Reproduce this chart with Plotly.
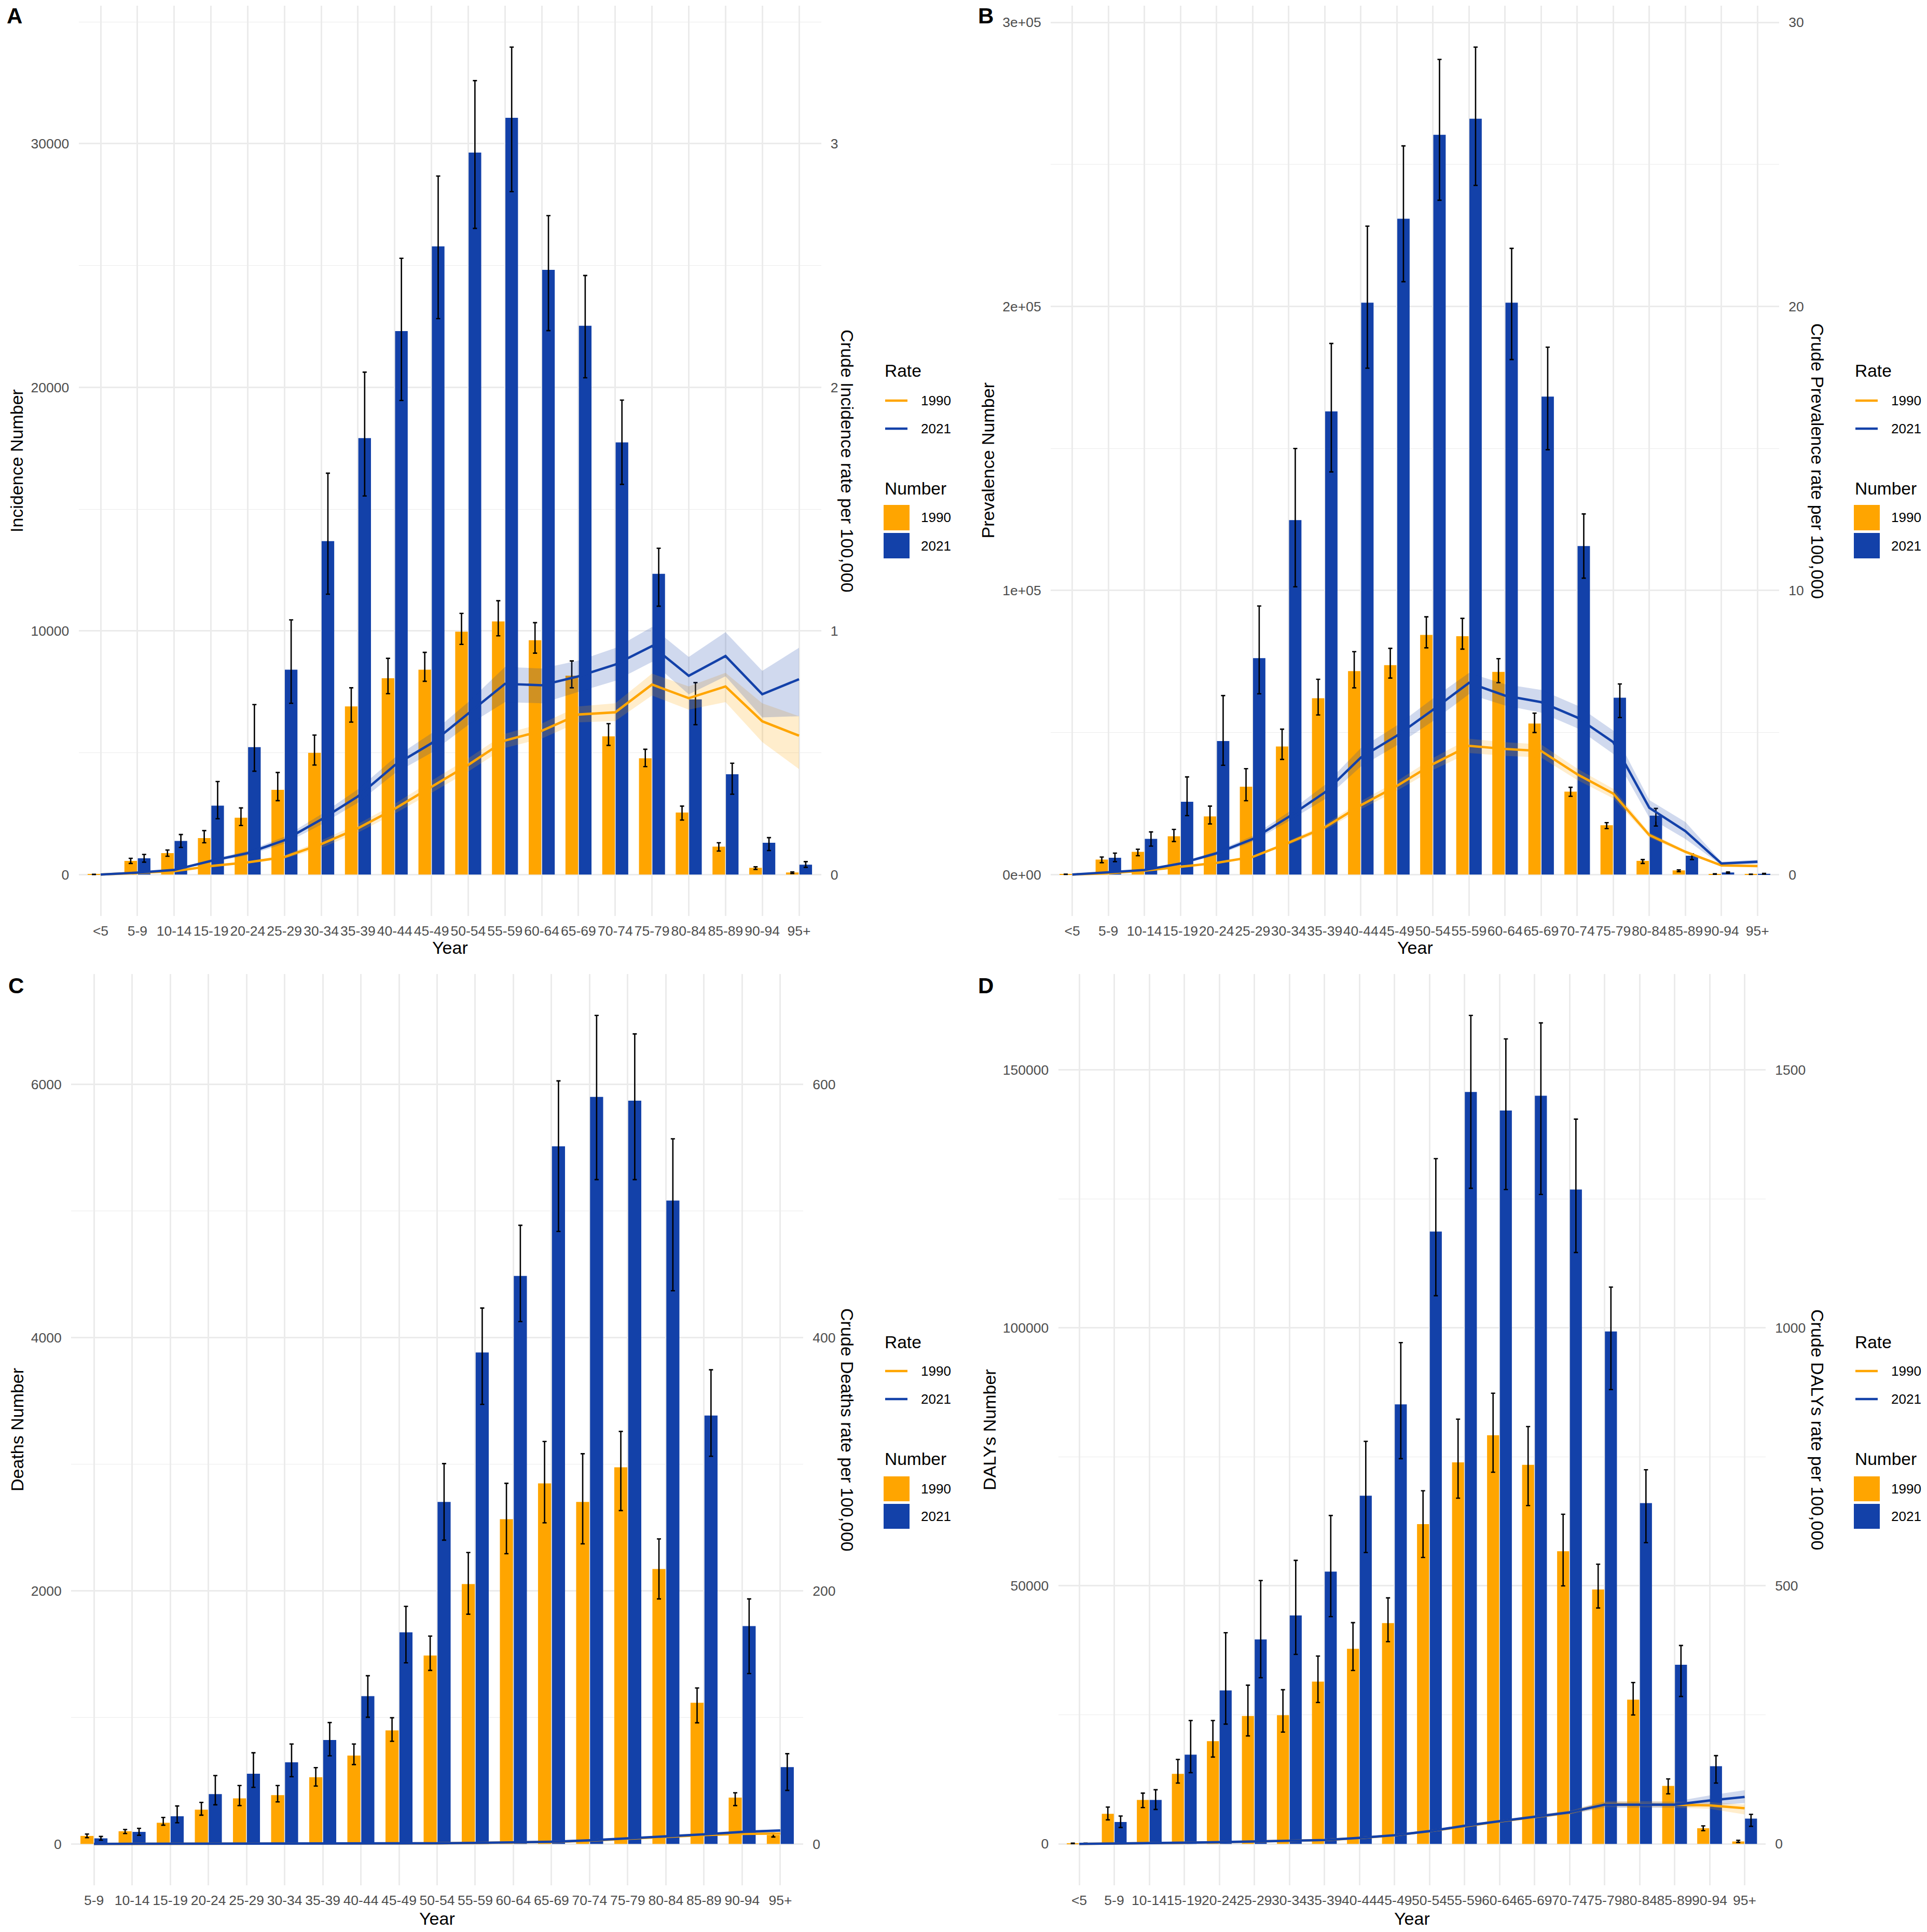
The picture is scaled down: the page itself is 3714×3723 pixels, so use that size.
import plotly.graph_objects as go

# ---------------- data ----------------
ages_abd = ["<5", "5-9", "10-14", "15-19", "20-24", "25-29", "30-34", "35-39", "40-44", "45-49",
            "50-54", "55-59", "60-64", "65-69", "70-74", "75-79", "80-84", "85-89", "90-94", "95+"]
ages_c = ["5-9", "10-14", "15-19", "20-24", "25-29", "30-34", "35-39", "40-44", "45-49",
          "50-54", "55-59", "60-64", "65-69", "70-74", "75-79", "80-84", "85-89", "90-94", "95+"]

# Panel A: Incidence
inc_num_1990 = [8, 562, 880, 1495, 2333, 3478, 4995, 6904, 8059, 8409, 9968, 10392, 9618, 8165, 5673, 4772, 2545, 1145, 276, 85]
inc_num_1990_lo = [4, 456, 753, 1304, 2015, 3033, 4496, 6257, 7423, 7932, 9449, 9799, 9088, 7667, 5302, 4433, 2237, 965, 212, 42]
inc_num_1990_hi = [12, 668, 1007, 1803, 2736, 4189, 5726, 7667, 8876, 9120, 10721, 11241, 10339, 8770, 6193, 5143, 2810, 1304, 318, 106]
inc_num_2021 = [10, 668, 1379, 2831, 5228, 8409, 13689, 17918, 22311, 25787, 29639, 31066, 24820, 22525, 17738, 12344, 7190, 4115, 1304, 403]
inc_num_2021_lo = [5, 509, 1113, 2291, 4242, 7031, 11508, 15541, 19459, 22820, 26525, 28033, 22328, 20393, 16016, 11016, 6151, 3298, 986, 297]
inc_num_2021_hi = [15, 827, 1644, 3818, 6978, 10456, 16475, 20623, 25295, 28672, 32590, 33967, 27049, 24590, 19475, 13393, 7879, 4571, 1516, 530]
inc_rate_1990 = [0.0, 0.006, 0.014, 0.035, 0.05, 0.072, 0.125, 0.19, 0.27, 0.36, 0.45, 0.55, 0.59, 0.657, 0.666, 0.78, 0.724, 0.772, 0.629, 0.57]
inc_rate_1990_lo = [0.0, 0.005, 0.012, 0.031, 0.045, 0.065, 0.11, 0.172, 0.25, 0.335, 0.423, 0.52, 0.558, 0.625, 0.63, 0.735, 0.677, 0.708, 0.544, 0.433]
inc_rate_1990_hi = [0.0, 0.007, 0.016, 0.039, 0.055, 0.079, 0.14, 0.208, 0.29, 0.385, 0.477, 0.578, 0.62, 0.69, 0.703, 0.825, 0.772, 0.828, 0.703, 0.65]
inc_rate_2021 = [0.0, 0.008, 0.019, 0.056, 0.088, 0.141, 0.226, 0.321, 0.449, 0.539, 0.661, 0.783, 0.777, 0.814, 0.862, 0.938, 0.816, 0.897, 0.74, 0.802]
inc_rate_2021_lo = [0.0, 0.007, 0.016, 0.05, 0.079, 0.127, 0.205, 0.295, 0.415, 0.5, 0.614, 0.708, 0.703, 0.75, 0.795, 0.873, 0.74, 0.814, 0.645, 0.65]
inc_rate_2021_hi = [0.0, 0.009, 0.022, 0.062, 0.097, 0.155, 0.247, 0.35, 0.48, 0.58, 0.708, 0.852, 0.846, 0.878, 0.93, 1.016, 0.893, 0.995, 0.836, 0.931]

# Panel B: Prevalence
prev_num_1990 = [100, 5273, 8000, 13455, 20455, 30909, 45091, 62091, 71636, 73727, 84364, 83909, 71364, 53182, 29182, 17364, 4818, 1455, 182, 91]
prev_num_1990_lo = [50, 4182, 6636, 11636, 17818, 26000, 40545, 56182, 65727, 69182, 79818, 79364, 67545, 50000, 27545, 16182, 3909, 1000, 100, 50]
prev_num_1990_hi = [150, 6182, 8909, 15909, 24091, 37273, 51182, 68727, 78455, 79636, 90727, 90182, 76000, 56818, 30727, 18273, 5273, 1636, 260, 130]
prev_num_2021 = [150, 5909, 12545, 25636, 47000, 76182, 124783, 163043, 201304, 230870, 260435, 266087, 201304, 168261, 115652, 62273, 20727, 6636, 727, 273]
prev_num_2021_lo = [80, 4545, 10000, 20727, 38455, 63636, 101304, 141739, 178261, 208696, 237391, 242609, 181304, 149565, 104348, 55273, 17091, 5273, 455, 150]
prev_num_2021_hi = [220, 7545, 15000, 34364, 63000, 94545, 150000, 186957, 228261, 256522, 286957, 291304, 220435, 185652, 126957, 67091, 23273, 7273, 909, 400]
prev_rate_1990 = [0.0, 0.045, 0.14, 0.27, 0.41, 0.62, 1.12, 1.66, 2.44, 3.12, 3.89, 4.53, 4.42, 4.35, 3.53, 2.85, 1.39, 0.8, 0.32, 0.30]
prev_rate_1990_lo = [0.0, 0.04, 0.13, 0.25, 0.38, 0.58, 1.05, 1.56, 2.3, 2.95, 3.68, 4.28, 4.18, 4.12, 3.33, 2.68, 1.3, 0.74, 0.29, 0.27]
prev_rate_1990_hi = [0.0, 0.05, 0.15, 0.29, 0.44, 0.66, 1.19, 1.76, 2.58, 3.29, 4.1, 4.78, 4.66, 4.58, 3.73, 3.02, 1.48, 0.86, 0.35, 0.33]
prev_rate_2021 = [0.0, 0.07, 0.16, 0.39, 0.75, 1.25, 2.03, 2.89, 4.12, 4.89, 5.8, 6.75, 6.3, 6.07, 5.53, 4.66, 2.35, 1.53, 0.39, 0.45]
prev_rate_2021_lo = [0.0, 0.06, 0.14, 0.35, 0.68, 1.15, 1.88, 2.65, 3.8, 4.55, 5.4, 6.35, 5.95, 5.7, 5.15, 4.25, 2.0, 1.25, 0.33, 0.38]
prev_rate_2021_hi = [0.0, 0.08, 0.18, 0.43, 0.82, 1.36, 2.2, 3.15, 4.45, 5.25, 6.2, 7.1, 6.7, 6.5, 5.95, 5.07, 2.62, 1.85, 0.45, 0.52]

# Panel C: Deaths
death_num_1990 = [63, 100, 167, 271, 360, 385, 527, 698, 897, 1488, 2053, 2566, 2849, 2702, 2976, 2172, 1115, 366, 70]
death_num_1990_lo = [49, 82, 148, 227, 303, 332, 457, 627, 811, 1371, 1815, 2293, 2537, 2371, 2634, 1936, 957, 303, 55]
death_num_1990_hi = [78, 114, 209, 328, 461, 461, 603, 789, 997, 1642, 2302, 2849, 3180, 3083, 3259, 2410, 1232, 404, 85]
death_num_2021 = [44, 95, 218, 394, 555, 645, 821, 1168, 1672, 2702, 3883, 4488, 5512, 5902, 5873, 5083, 3385, 1721, 607]
death_num_2021_lo = [30, 68, 167, 309, 447, 531, 696, 1001, 1431, 2400, 3473, 4127, 4839, 5249, 5249, 4371, 3063, 1346, 423]
death_num_2021_hi = [59, 123, 300, 540, 720, 789, 959, 1329, 1877, 3005, 4234, 4888, 6029, 6546, 6400, 5571, 3746, 1936, 713]
death_rate_1990 = [0.02, 0.03, 0.04, 0.06, 0.08, 0.1, 0.13, 0.18, 0.27, 0.45, 0.75, 1.05, 1.6, 2.6, 4.2, 5.5, 7.0, 7.9, 8.2]
death_rate_1990_lo = [0.018, 0.027, 0.036, 0.054, 0.072, 0.09, 0.117, 0.162, 0.243, 0.41, 0.69, 0.96, 1.47, 2.4, 3.9, 5.1, 6.4, 7.2, 7.3]
death_rate_1990_hi = [0.022, 0.033, 0.044, 0.066, 0.088, 0.11, 0.143, 0.198, 0.297, 0.49, 0.81, 1.14, 1.73, 2.8, 4.5, 5.9, 7.6, 8.6, 9.1]
death_rate_2021 = [0.02, 0.03, 0.05, 0.07, 0.09, 0.12, 0.15, 0.2, 0.3, 0.5, 0.8, 1.1, 1.7, 2.8, 4.4, 5.7, 7.6, 9.5, 10.6]
death_rate_2021_lo = [0.018, 0.027, 0.045, 0.063, 0.081, 0.108, 0.135, 0.18, 0.27, 0.46, 0.74, 1.0, 1.56, 2.58, 4.05, 5.25, 7.0, 8.7, 9.6]
death_rate_2021_hi = [0.022, 0.033, 0.055, 0.077, 0.099, 0.132, 0.165, 0.22, 0.33, 0.54, 0.86, 1.2, 1.84, 3.02, 4.75, 6.15, 8.2, 10.3, 11.6]

# Panel D: DALYs
daly_num_1990 = [100, 5825, 8528, 13560, 19898, 24790, 24930, 31454, 37791, 42777, 61962, 73923, 79187, 73445, 56699, 49301, 27959, 11230, 3029, 466]
daly_num_1990_lo = [50, 4660, 7037, 11790, 16822, 20923, 21668, 27400, 33598, 39189, 55502, 66986, 72010, 65550, 50000, 45713, 24977, 9692, 2563, 280]
daly_num_1990_hi = [150, 7130, 9832, 16356, 23905, 30755, 29870, 36393, 42870, 47670, 68421, 82297, 87321, 80861, 63876, 54194, 31268, 12582, 3495, 699]
daly_num_2021 = [100, 4240, 8528, 17288, 29730, 39608, 44268, 52749, 67464, 85167, 118660, 145694, 142105, 144976, 126794, 99282, 66029, 34716, 15051, 4893]
daly_num_2021_lo = [50, 3169, 6664, 13793, 23206, 32200, 36719, 44035, 56459, 74641, 106220, 127033, 126794, 125837, 114593, 88038, 58373, 28565, 11790, 3402]
daly_num_2021_hi = [150, 5405, 10485, 23905, 40913, 51025, 54939, 63636, 78000, 97129, 132775, 160526, 155981, 159091, 140431, 107895, 72488, 38444, 17102, 5732]
daly_rate_1990 = [0.0, 0.5, 1.3, 2.2, 3.2, 4.6, 6.0, 7.4, 11.4, 16.5, 24.5, 34.5, 43.5, 52.0, 60.5, 77.0, 77.0, 76.0, 74.6, 69.0]
daly_rate_1990_lo = [0.0, 0.4, 1.1, 1.9, 2.8, 4.1, 5.4, 6.7, 10.4, 15.2, 22.8, 32.3, 41.0, 49.0, 57.0, 71.0, 71.0, 70.0, 68.0, 57.0]
daly_rate_1990_hi = [0.0, 0.6, 1.5, 2.5, 3.6, 5.1, 6.6, 8.1, 12.4, 17.8, 26.2, 36.7, 46.0, 55.0, 64.0, 83.0, 83.0, 82.0, 81.0, 76.0]
daly_rate_2021 = [0.0, 0.5, 1.4, 2.3, 3.3, 4.7, 6.1, 7.5, 11.6, 16.8, 24.7, 35.0, 44.0, 52.7, 61.0, 76.0, 76.0, 76.0, 84.0, 91.0]
daly_rate_2021_lo = [0.0, 0.4, 1.2, 2.0, 2.9, 4.2, 5.5, 6.8, 10.6, 15.5, 23.0, 32.8, 41.5, 49.8, 57.5, 70.0, 70.0, 70.0, 74.0, 79.0]
daly_rate_2021_hi = [0.0, 0.6, 1.6, 2.6, 3.7, 5.2, 6.7, 8.2, 12.6, 18.1, 26.4, 37.2, 46.5, 55.6, 64.5, 82.0, 82.0, 82.0, 94.0, 104.0]

# tick labels
inc_ticks = [0, 10000, 20000, 30000]
inc_ticktext = ["0", "10000", "20000", "30000"]
inc_rate_ticks = [0, 1, 2, 3]
prev_ticks = [0, 100000, 200000, 300000]
prev_ticktext = ["0e+00", "1e+05", "2e+05", "3e+05"]
prev_rate_ticks = [0, 10, 20, 30]
death_ticks = [0, 2000, 4000, 6000]
death_ticktext = ["0", "2000", "4000", "6000"]
death_rate_ticks = [0, 200, 400, 600]
daly_ticks = [0, 50000, 100000, 150000]
daly_ticktext = ["0", "50000", "100000", "150000"]
daly_rate_ticks = [0, 500, 1000, 1500]
years = ["1990", "2021"]

# ---------------- style / layout constants ----------------
W, H = 3714, 3723
ORANGE = "#FFA500"
BLUE = "#1341A9"
FILLS = {"1990": "rgba(255,165,0,0.2)", "2021": "rgba(19,65,169,0.2)"}
COLORS = {"1990": ORANGE, "2021": BLUE}
GRID = "#EBEBEB"
TICKC = "#4D4D4D"
FONT = "Liberation Sans, Arial, sans-serif"
TICKSIZE = 26.5
TITLESIZE = 34

panels = [
    dict(tag="A", ages=ages_abd,
         num={"1990": (inc_num_1990, inc_num_1990_lo, inc_num_1990_hi), "2021": (inc_num_2021, inc_num_2021_lo, inc_num_2021_hi)},
         rate={"1990": (inc_rate_1990, inc_rate_1990_lo, inc_rate_1990_hi), "2021": (inc_rate_2021, inc_rate_2021_lo, inc_rate_2021_hi)},
         px=(151.5, 1582.5), py=(11, 1765), yr=(-1698, 35665), factor=1e4,
         yt=inc_ticks, ytt=inc_ticktext, step=10000, y2t=inc_rate_ticks,
         ltitle="Incidence Number", rtitle="Crude Incidence rate per 100,000",
         lt_x=32, rt_x=1633, tag_xy=(27.5, 30.5), leg_x=1703, row=0, year_y=1826),
    dict(tag="B", ages=ages_abd,
         num={"1990": (prev_num_1990, prev_num_1990_lo, prev_num_1990_hi), "2021": (prev_num_2021, prev_num_2021_lo, prev_num_2021_hi)},
         rate={"1990": (prev_rate_1990, prev_rate_1990_lo, prev_rate_1990_hi), "2021": (prev_rate_2021, prev_rate_2021_lo, prev_rate_2021_hi)},
         px=(2025, 3429), py=(11, 1765), yr=(-14565, 305869), factor=1e4,
         yt=prev_ticks, ytt=prev_ticktext, step=100000, y2t=prev_rate_ticks,
         ltitle="Prevalence Number", rtitle="Crude Prevalence rate per 100,000",
         lt_x=1903.5, rt_x=3503, tag_xy=(1900, 30.5), leg_x=3573, row=0, year_y=1826),
    dict(tag="C", ages=ages_c,
         num={"1990": (death_num_1990, death_num_1990_lo, death_num_1990_hi), "2021": (death_num_2021, death_num_2021_lo, death_num_2021_hi)},
         rate={"1990": (death_rate_1990, death_rate_1990_lo, death_rate_1990_hi), "2021": (death_rate_2021, death_rate_2021_lo, death_rate_2021_hi)},
         px=(137, 1548), py=(1877, 3633), yr=(-327, 6873), factor=10,
         yt=death_ticks, ytt=death_ticktext, step=2000, y2t=death_rate_ticks,
         ltitle="Deaths Number", rtitle="Crude Deaths rate per 100,000",
         lt_x=33, rt_x=1633, tag_xy=(30.5, 1899.5), leg_x=1703, row=1, year_y=3697),
    dict(tag="D", ages=ages_abd,
         num={"1990": (daly_num_1990, daly_num_1990_lo, daly_num_1990_hi), "2021": (daly_num_2021, daly_num_2021_lo, daly_num_2021_hi)},
         rate={"1990": (daly_rate_1990, daly_rate_1990_lo, daly_rate_1990_hi), "2021": (daly_rate_2021, daly_rate_2021_lo, daly_rate_2021_hi)},
         px=(2039.5, 3403), py=(1877, 3633), yr=(-8026, 168552), factor=100,
         yt=daly_ticks, ytt=daly_ticktext, step=50000, y2t=daly_rate_ticks,
         ltitle="DALYs Number", rtitle="Crude DALYs rate per 100,000",
         lt_x=1907, rt_x=3503, tag_xy=(1900, 1899.5), leg_x=3573, row=1, year_y=3697),
]

legend_rows = [
    dict(rate_y=715, line_y=(772, 826), num_y=941, sq=((973, 1022), (1027, 1076))),
    dict(rate_y=2586, line_y=(2642, 2696), num_y=2811, sq=((2845, 2893), (2898, 2946))),
]


def fx(p):
    return p / W


def fy(p):
    return 1 - p / H


fig = go.Figure()
layout = dict(
    width=W, height=H, margin=dict(l=0, r=0, t=0, b=0),
    paper_bgcolor="white", plot_bgcolor="white",
    barmode="group", bargap=0.27, bargroupgap=0.06,
    showlegend=False, font=dict(family=FONT, color="black"),
)
annotations = []
shapes = []

for i, p in enumerate(panels, start=1):
    xa = "x" if i == 1 else f"x{i}"
    ya1 = f"y{2 * i - 1}" if i > 1 else "y"
    ya2 = f"y{2 * i}"
    ages = p["ages"]
    n = len(ages)

    # bars with error bars
    for yr_ in years:
        v, lo, hi = p["num"][yr_]
        fig.add_trace(go.Bar(
            x=ages, y=v, xaxis=xa, yaxis=ya1, name=yr_,
            marker=dict(color=COLORS[yr_], line=dict(width=0)),
            error_y=dict(type="data", symmetric=False,
                         array=[h - a for h, a in zip(hi, v)],
                         arrayminus=[a - l for a, l in zip(v, lo)],
                         color="black", thickness=2.6, width=4),
        ))
    # ribbons
    for yr_ in years:
        r, lo, hi = p["rate"][yr_]
        fig.add_trace(go.Scatter(x=ages, y=lo, xaxis=xa, yaxis=ya2, mode="lines",
                                 line=dict(width=0, color=FILLS[yr_]), hoverinfo="skip"))
        fig.add_trace(go.Scatter(x=ages, y=hi, xaxis=xa, yaxis=ya2, mode="lines",
                                 line=dict(width=0, color=FILLS[yr_]), fill="tonexty",
                                 fillcolor=FILLS[yr_], hoverinfo="skip"))
    # rate lines
    for yr_ in years:
        r, lo, hi = p["rate"][yr_]
        fig.add_trace(go.Scatter(x=ages, y=r, xaxis=xa, yaxis=ya2, mode="lines",
                                 line=dict(width=4.6, color=COLORS[yr_]), name=yr_))

    xdom = [fx(p["px"][0]), fx(p["px"][1])]
    ydom = [fy(p["py"][1]), fy(p["py"][0])]
    y0, y1 = p["yr"]
    step = p["step"]
    minor_vals = [step / 2 + k * step for k in range(-1, 5) if y0 < step / 2 + k * step < y1]

    xkey = "xaxis" if i == 1 else f"xaxis{i}"
    y1key = "yaxis" if i == 1 else f"yaxis{2 * i - 1}"
    y2key = f"yaxis{2 * i}"
    layout[xkey] = dict(
        domain=xdom, anchor=ya1, type="category", categoryorder="array", categoryarray=ages,
        range=[-0.6, n - 0.4], showgrid=True, gridcolor=GRID, gridwidth=2.7,
        zeroline=False, showline=False, ticks="outside", ticklen=5, tickcolor="rgba(0,0,0,0)",
        tickangle=0, tickfont=dict(size=TICKSIZE, color=TICKC, family=FONT),
    )
    layout[y1key] = dict(
        domain=ydom, anchor=xa, range=[y0, y1], tickmode="array", tickvals=p["yt"], ticktext=p["ytt"],
        showgrid=True, gridcolor=GRID, gridwidth=2.7, zeroline=False, showline=False,
        ticks="outside", ticklen=12, tickcolor="rgba(0,0,0,0)",
        tickfont=dict(size=TICKSIZE, color=TICKC, family=FONT),
        minor=dict(tickmode="array", tickvals=minor_vals, showgrid=True, gridcolor=GRID, gridwidth=1.4),
    )
    layout[y2key] = dict(
        overlaying=ya1, side="right", anchor=xa, range=[y0 / p["factor"], y1 / p["factor"]],
        tickmode="array", tickvals=p["y2t"], ticktext=[str(t) for t in p["y2t"]],
        showgrid=False, zeroline=False, showline=False,
        ticks="outside", ticklen=12, tickcolor="rgba(0,0,0,0)",
        tickfont=dict(size=TICKSIZE, color=TICKC, family=FONT),
    )

    cy = (p["py"][0] + p["py"][1]) / 2
    cx = (p["px"][0] + p["px"][1]) / 2
    # axis titles
    annotations.append(dict(text=p["ltitle"], x=fx(p["lt_x"]), y=fy(cy), xref="paper", yref="paper",
                            textangle=-90, showarrow=False, xanchor="center", yanchor="middle",
                            font=dict(size=TITLESIZE, color="black", family=FONT)))
    annotations.append(dict(text=p["rtitle"], x=fx(p["rt_x"]), y=fy(cy), xref="paper", yref="paper",
                            textangle=90, showarrow=False, xanchor="center", yanchor="middle",
                            font=dict(size=TITLESIZE, color="black", family=FONT)))
    annotations.append(dict(text="Year", x=fx(cx), y=fy(p["year_y"]), xref="paper", yref="paper",
                            showarrow=False, xanchor="center", yanchor="middle",
                            font=dict(size=TITLESIZE, color="black", family=FONT)))
    # panel tag
    annotations.append(dict(text=f"<b>{p['tag']}</b>", x=fx(p["tag_xy"][0]), y=fy(p["tag_xy"][1]),
                            xref="paper", yref="paper", showarrow=False, xanchor="center", yanchor="middle",
                            font=dict(size=42, color="black", family=FONT)))

    # legend (drawn manually to match ggplot key sizes)
    lr = legend_rows[p["row"]]
    lx = p["leg_x"]
    annotations.append(dict(text="Rate", x=fx(lx), y=fy(lr["rate_y"]), xref="paper", yref="paper",
                            showarrow=False, xanchor="left", yanchor="middle",
                            font=dict(size=33.5, color="black", family=FONT)))
    annotations.append(dict(text="Number", x=fx(lx), y=fy(lr["num_y"]), xref="paper", yref="paper",
                            showarrow=False, xanchor="left", yanchor="middle",
                            font=dict(size=33.5, color="black", family=FONT)))
    for k, yr_ in enumerate(years):
        ly = lr["line_y"][k]
        shapes.append(dict(type="line", xref="paper", yref="paper", x0=fx(lx + 3), x1=fx(lx + 46),
                           y0=fy(ly), y1=fy(ly), line=dict(color=COLORS[yr_], width=4.6)))
        annotations.append(dict(text=yr_, x=fx(lx + 70), y=fy(ly), xref="paper", yref="paper",
                                showarrow=False, xanchor="left", yanchor="middle",
                                font=dict(size=26, color="black", family=FONT)))
        s0, s1 = lr["sq"][k]
        shapes.append(dict(type="rect", xref="paper", yref="paper", x0=fx(lx), x1=fx(lx + 50),
                           y0=fy(s1), y1=fy(s0), fillcolor=COLORS[yr_], line=dict(width=0)))
        annotations.append(dict(text=yr_, x=fx(lx + 70), y=fy((s0 + s1) / 2), xref="paper", yref="paper",
                                showarrow=False, xanchor="left", yanchor="middle",
                                font=dict(size=26, color="black", family=FONT)))

layout["annotations"] = annotations
layout["shapes"] = shapes
fig.update_layout(**layout)

fig.write_html("out.html", config={"displayModeBar": False},
               post_script="document.body.style.margin='0';document.body.style.overflow='hidden';")
